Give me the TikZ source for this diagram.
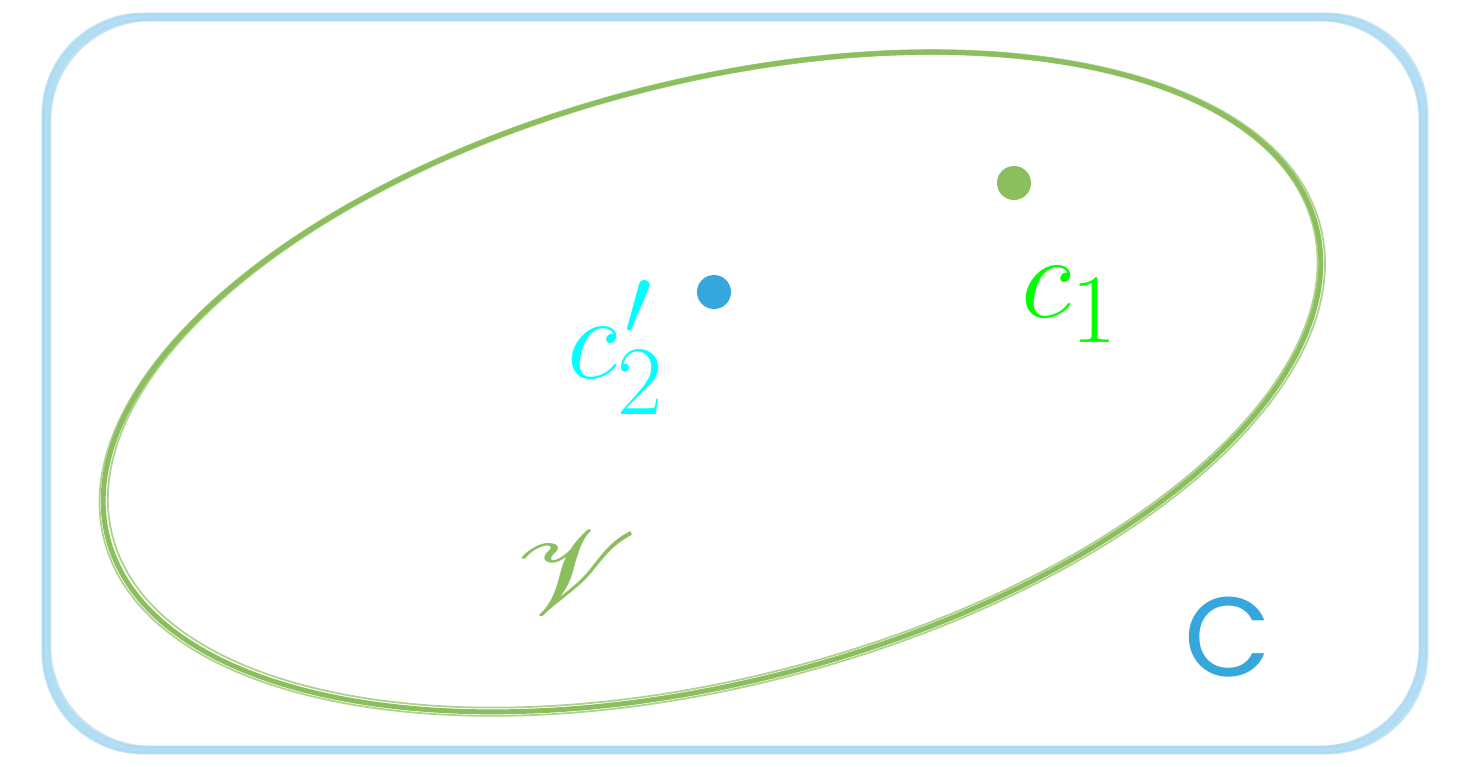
\documentclass[tikz,border=0pt]{standalone}
\usepackage{fontspec}
\usepackage{mathrsfs}
\usepackage{graphicx}
\newfontfamily\popp{Poppins}
\definecolor{rectblue}{HTML}{A6D7F0}
\definecolor{dotblue}{HTML}{35A7DC}
\definecolor{ellgreen}{HTML}{8BBE5C}
\definecolor{brightgreen}{HTML}{00FF00}
\definecolor{brightcyan}{HTML}{00FFFF}
\tikzset{
  rectline/.style={draw=rectblue, line width=2.2pt, rounded corners=1cm, opacity=0.85},
  rectthin/.style={draw=rectblue, line width=0.8pt, rounded corners=1cm, opacity=0.7},
  ellline/.style={draw=ellgreen, line width=1.4pt},
  ellthin/.style={draw=ellgreen, line width=0.5pt, opacity=0.7},
  dotnode/.style={circle, inner sep=0pt, minimum size=0.34cm},
  lbl/.style={anchor=base west, inner sep=0pt, font=\fontsize{24.88}{28}\selectfont}
}
\newcommand{\lowsub}[1]{\raisebox{-1.6pt}{$\scriptstyle #1$}}
\begin{document}
\begin{tikzpicture}[x=0.01cm,y=-0.01cm]
\useasboundingbox (0,0) rectangle (1466,766);
% sketchy rounded rectangle
\draw[rectline] (46,17) rectangle (1423,750);
\draw[rectthin] (43,14) rectangle (1427,753);
\draw[rectthin] (50,20) rectangle (1420,747);
% sketchy ellipse
\begin{scope}[rotate around={14.5:(712,382)}]
\draw[ellline] (712,382) ellipse [x radius=624, y radius=300];
\draw[ellthin] (712,383) ellipse [x radius=628, y radius=303];
\draw[ellthin] (713,381) ellipse [x radius=620, y radius=297];
\end{scope}
% dots
\node[dotnode, fill=ellgreen] (d1) at (1014,183) {};
\node[dotnode, fill=dotblue] (d2) at (714,292) {};
% labels
\node[lbl, text=brightgreen] (c1) at (1021,317) {\scalebox{1.35}{$c_{\lowsub{1}}$}};
\node[lbl, text=brightcyan] (c2) at (567,378) {\scalebox{1.35}{$c^{\kern1.5pt\prime}_{\lowsub{2}}$}};
\node[lbl, text=ellgreen] (V) at (514,614) {\scalebox{1.57}[1.35]{$\mathscr{V}$}};
\node[anchor=base west, inner sep=0pt, text=dotblue, font=\popp\fontsize{32}{36}\selectfont] (C) at (1184,676) {C};
\end{tikzpicture}
\end{document}
